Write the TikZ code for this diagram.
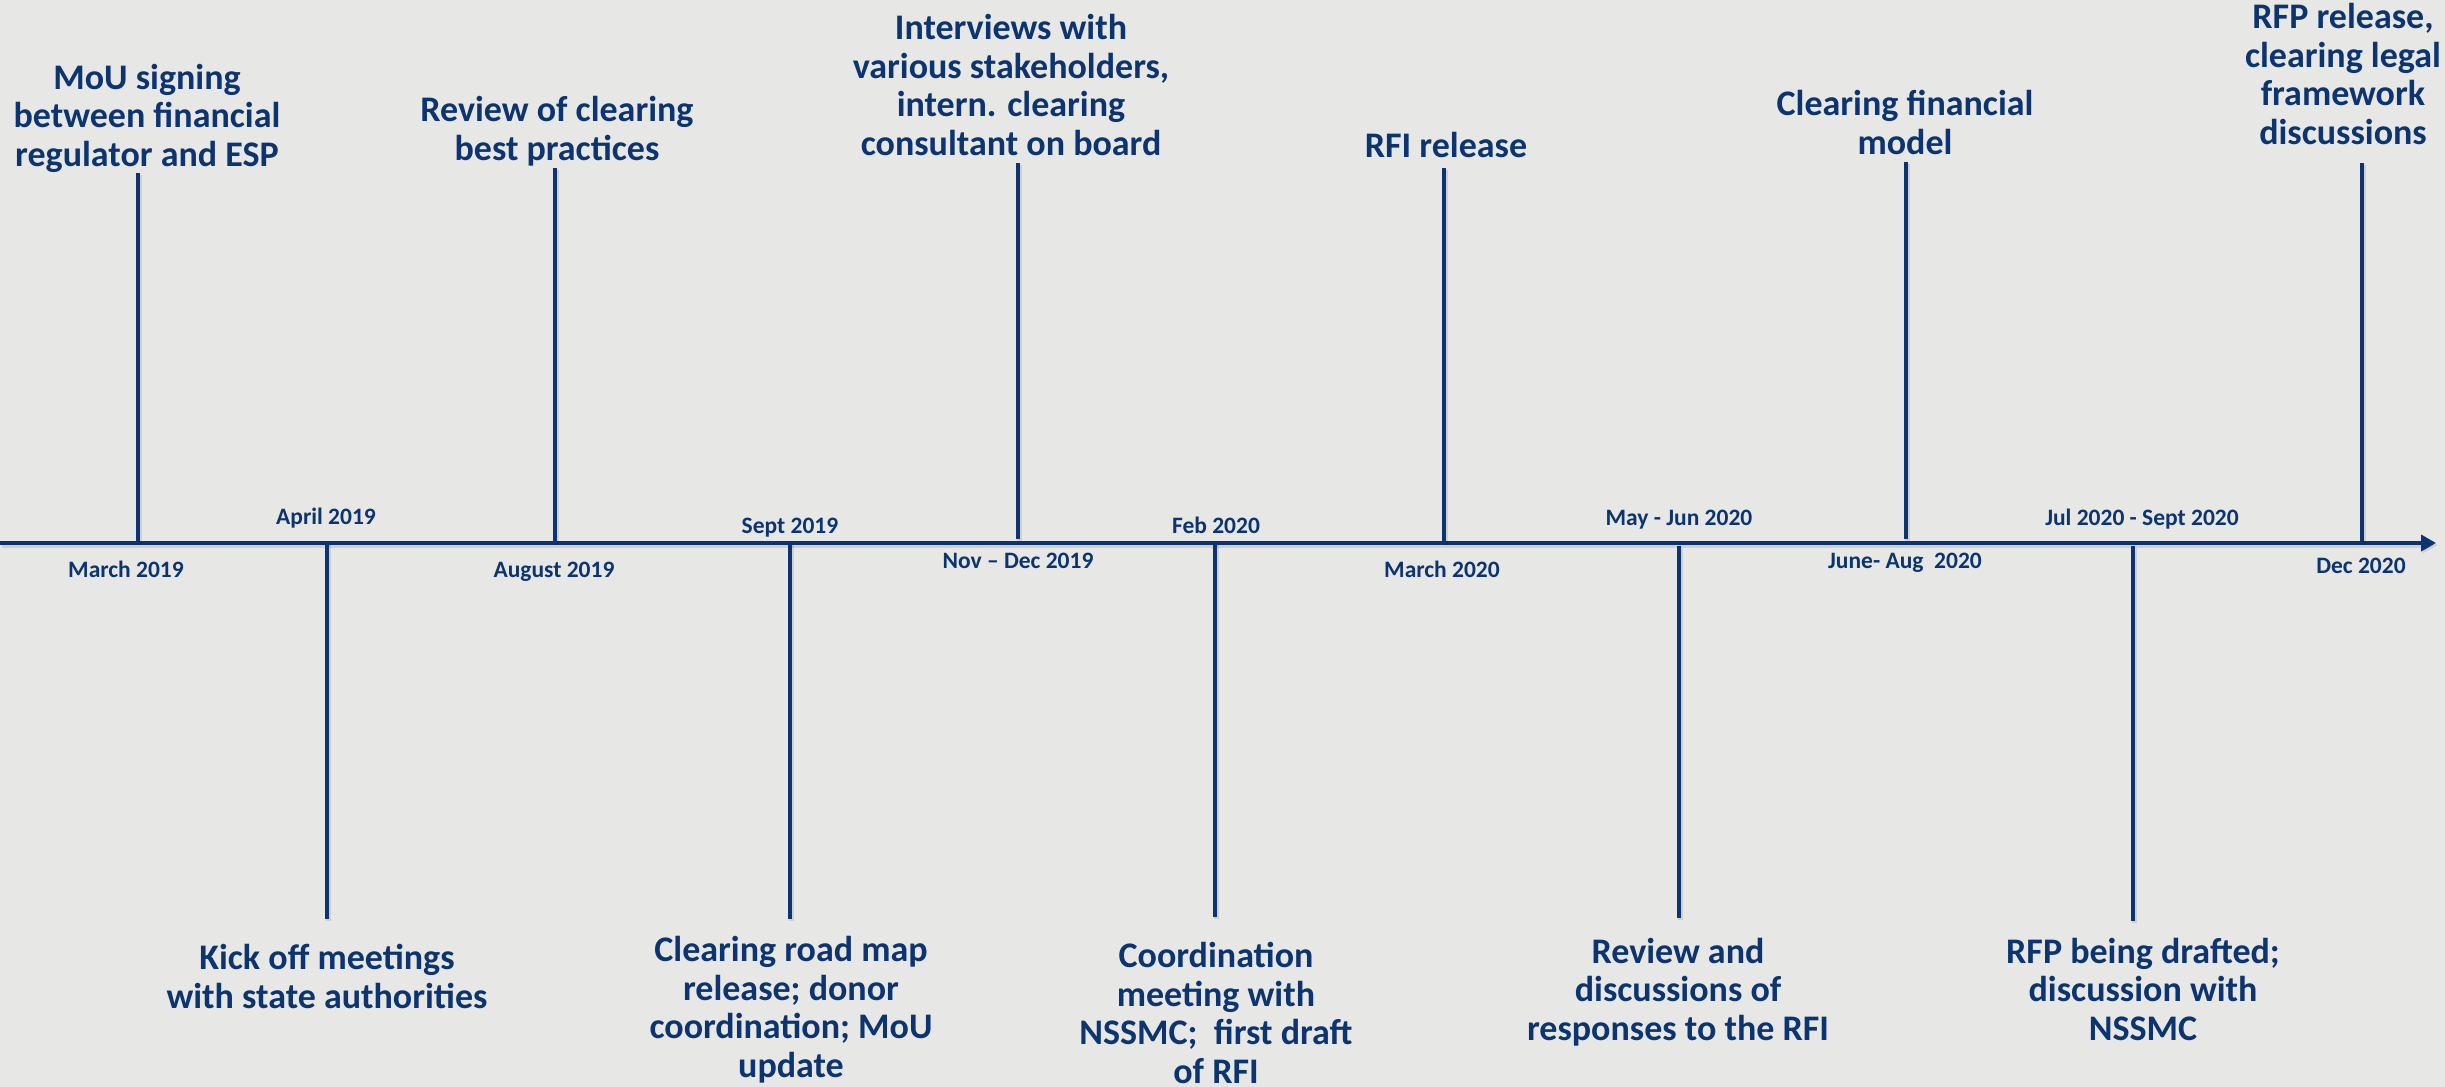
\documentclass[tikz,border=0pt]{standalone}
\usepackage{fontspec}
\setmainfont{Carlito}
\usetikzlibrary{arrows.meta}
\definecolor{navy}{RGB}{12,52,112}
\definecolor{bgc}{RGB}{231,231,229}
\begin{document}
\begin{tikzpicture}[x=1pt,y=-1pt,
  evt/.style={text=navy,font=\fontsize{36}{38.5}\selectfont\bfseries,align=center,inner sep=0pt,anchor=base},
  dt/.style={text=navy,font=\fontsize{23.5}{26}\selectfont\bfseries,inner sep=0pt,anchor=base},
  shade line/.style={preaction={draw=black,opacity=0.10,line width=5pt,transform canvas={shift={(1.5pt,-2pt)}}}},
  tick/.style={draw=navy,line width=3.5pt,shade line},
  timeaxis/.style={draw=navy,line width=4pt,shade line,-{Triangle[length=15pt,width=16pt]}}]
\fill[bgc] (0,0) rectangle (2445,1087);
\useasboundingbox (0,0) rectangle (2445,1087);

% axis
\coordinate (axL) at (0,543);
\coordinate (axR) at (2436,543);
\draw[timeaxis] (axL) -- (axR);

% upward ticks
\coordinate (u1a) at (138,543);  \coordinate (u1t) at (138,173);
\coordinate (u2a) at (555,543);  \coordinate (u2t) at (555,168);
\coordinate (u3a) at (1018,539); \coordinate (u3t) at (1018,163);
\coordinate (u4a) at (1444,543); \coordinate (u4t) at (1444,168);
\coordinate (u5a) at (1906,539); \coordinate (u5t) at (1906,162);
\coordinate (u6a) at (2362,543); \coordinate (u6t) at (2362,163);
\foreach \i in {1,...,6} {\draw[tick] (u\i a) -- (u\i t);}

% downward ticks
\coordinate (d1a) at (327,543);  \coordinate (d1b) at (327,919);
\coordinate (d2a) at (790,543);  \coordinate (d2b) at (790,919);
\coordinate (d3a) at (1215,543); \coordinate (d3b) at (1215,917);
\coordinate (d4a) at (1679,546); \coordinate (d4b) at (1679,918);
\coordinate (d5a) at (2133,546); \coordinate (d5b) at (2133,921);
\foreach \i in {1,...,5} {\draw[tick] (d\i a) -- (d\i b);}

% dates above axis
\node[dt] (dApr19) at (326,524) {April 2019};
\node[dt] (dSep19) at (790,533) {Sept 2019};
\node[dt] (dFeb20) at (1216,533) {Feb 2020};
\node[dt] (dMay20) at (1679,525) {May - Jun 2020};
\node[dt] (dJul20) at (2142,525) {Jul 2020 - Sept 2020};
% dates below axis
\node[dt] (dMar19) at (126,577) {March 2019};
\node[dt] (dAug19) at (554,577) {August 2019};
\node[dt] (dNov19) at (1018,568) {Nov – Dec 2019};
\node[dt] (dMar20) at (1442,577) {March 2020};
\node[dt] (dJun20) at (1905,568) {June- Aug\ \ 2020};
\node[dt] (dDec20) at (2361,573) {Dec 2020};

% events above (anchor = baseline of last line)
\node[evt] (e1) at (147,166) {MoU signing\\between financial\\regulator and ESP};
\node[evt] (e2) at (557,160) {Review of clearing\\best practices};
\node[evt] (e3) at (1011,155) {Interviews with\\various stakeholders,\\intern. clearing\\consultant on board};
\node[evt] (e4) at (1446,157) {RFI release};
\node[evt] (e5) at (1905,154) {Clearing financial\\model};
\node[evt] (e6) at (2343,144) {RFP release,\\clearing legal\\framework\\discussions};

% events below
\node[evt] (b1) at (327,1008) {Kick off meetings\\with state authorities};
\node[evt] (b2) at (791,1077) {Clearing road map\\release; donor\\coordination; MoU\\update};
\node[evt] (b3) at (1216,1083) {Coordination\\meeting with\\NSSMC;\ \ first draft\\of RFI};
\node[evt] (b4) at (1678,1040) {Review and\\discussions of\\responses to the RFI};
\node[evt] (b5) at (2143,1040) {RFP being drafted;\\discussion with\\NSSMC};
\end{tikzpicture}
\end{document}
